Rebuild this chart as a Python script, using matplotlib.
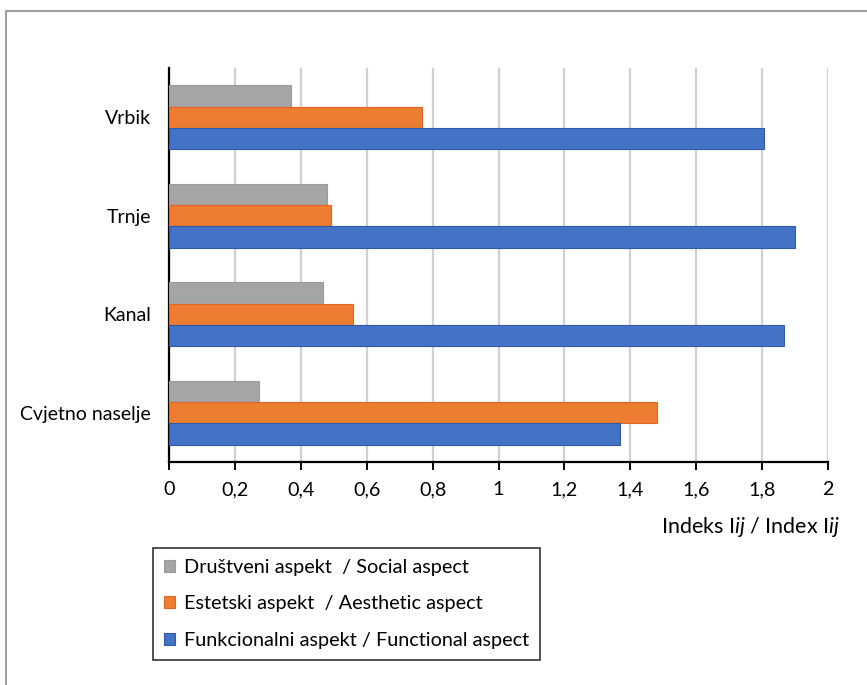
import numpy as np
import matplotlib
matplotlib.use('Agg')
import matplotlib.pyplot as plt
from matplotlib.lines import Line2D
from matplotlib.ticker import FuncFormatter

plt.rcParams['font.family'] = ['Lato', 'DejaVu Sans']
plt.rcParams['mathtext.fontset'] = 'custom'
plt.rcParams['mathtext.rm'] = 'Lato'
plt.rcParams['mathtext.it'] = 'Lato:italic'

# data, top to bottom in the chart
places = ['Vrbik', 'Trnje', 'Kanal', 'Cvjetno naselje']
social = [0.369, 0.480, 0.466, 0.274]
aesthetic = [0.769, 0.493, 0.558, 1.480]
functional = [1.805, 1.901, 1.865, 1.368]
xticks = [0, 0.2, 0.4, 0.6, 0.8, 1, 1.2, 1.4, 1.6, 1.8, 2]

labels = ['Društveni aspekt  / Social aspect',
          'Estetski aspekt  / Aesthetic aspect',
          'Funkcionalni aspekt / Functional aspect']

fig = plt.figure(figsize=(8.67, 6.85), dpi=100)
ax = fig.add_axes([169/867, 1-462/685, (828-169)/867, (462-68)/685])

y = np.arange(len(places))
h = 0.215
ax.barh(y - h, social, height=h, color='#A5A5A5', edgecolor='#9A9A9A', linewidth=0.8, label=labels[0], zorder=3)
ax.barh(y, aesthetic, height=h, color='#ED7D31', edgecolor='#E0652A', linewidth=0.8, label=labels[1], zorder=3)
ax.barh(y + h, functional, height=h, color='#4472C4', edgecolor='#2F5AA8', linewidth=0.8, label=labels[2], zorder=3)

ax.set_ylim(len(places) - 0.5, -0.5)
ax.set_xlim(0, 2)
ax.set_yticks(y)
ax.set_yticklabels(places)
ax.set_xticks(xticks)
ax.xaxis.set_major_formatter(FuncFormatter(lambda v, p: ('%g' % v).replace('.', ',')))

ax.grid(axis='x', color='#D0D0D0', linewidth=1.6, zorder=0)
for s in ['top', 'right']:
    ax.spines[s].set_visible(False)
ax.spines['left'].set_linewidth(1.6)
ax.spines['bottom'].set_linewidth(1.6)
ax.tick_params(axis='y', length=0, pad=13, labelsize=14)
ax.tick_params(axis='x', direction='out', length=6, width=1.4, pad=8, labelsize=14.2)

fig.text(840/867, 1-527/685, r'Indeks I$\mathit{ij}$ / Index I$\mathit{ij}$',
         ha='right', va='center', fontsize=15.5)

leg = fig.legend(loc='upper left', bbox_to_anchor=(153/867, 1-548/685),
                 fontsize=14.3, frameon=True, fancybox=False, handlelength=0.55,
                 handleheight=0.55, handletextpad=0.45, labelspacing=0.98,
                 borderpad=0.55, borderaxespad=0)
leg.get_frame().set_edgecolor('black')
leg.get_frame().set_linewidth(1.2)

# outer frame of the figure
fig.add_artist(Line2D([6/867, 6/867, 1], [0, 1-11/685, 1-11/685],
                      transform=fig.transFigure, color='#A0A0A0', linewidth=1.5))

fig.savefig('out.png', dpi=100)
